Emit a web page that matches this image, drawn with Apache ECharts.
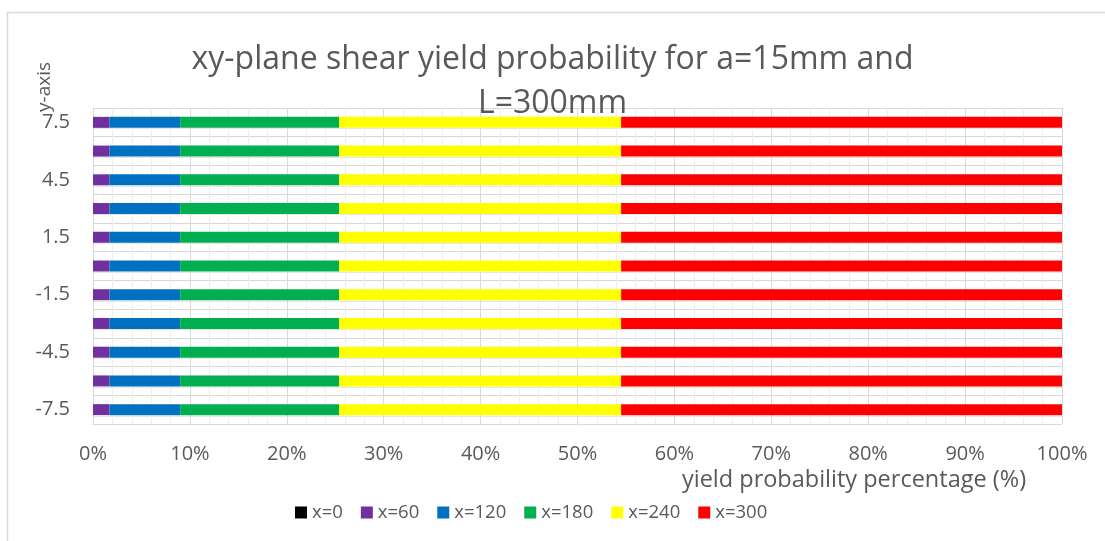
<!DOCTYPE html>
<html>
<head>
<meta charset="utf-8">
<script src="https://cdn.jsdelivr.net/npm/echarts@6/dist/echarts.min.js"></script>
<style>
  html, body { margin: 0; padding: 0; background: #ffffff; }
  #chart { width: 1105px; height: 541px; }
</style>
</head>
<body>
<div id="chart"></div>
<script>
// y positions along the beam section (mm)
const categories = ['-7.5', '-6', '-4.5', '-3', '-1.5', '0', '1.5', '3', '4.5', '6', '7.5'];

// yield probability share (%) at each x station
const seriesNames = ['x=0', 'x=60', 'x=120', 'x=180', 'x=240', 'x=300'];
const x0   = [0, 0, 0, 0, 0, 0, 0, 0, 0, 0, 0];
const x60  = [1.7, 1.7, 1.7, 1.7, 1.7, 1.7, 1.7, 1.7, 1.7, 1.7, 1.7];
const x120 = [7.3, 7.3, 7.3, 7.3, 7.3, 7.3, 7.3, 7.3, 7.3, 7.3, 7.3];
const x180 = [16.4, 16.4, 16.4, 16.4, 16.4, 16.4, 16.4, 16.4, 16.4, 16.4, 16.4];
const x240 = [29.1, 29.1, 29.1, 29.1, 29.1, 29.1, 29.1, 29.1, 29.1, 29.1, 29.1];
const x300 = [45.5, 45.5, 45.5, 45.5, 45.5, 45.5, 45.5, 45.5, 45.5, 45.5, 45.5];
const seriesValues = [x0, x60, x120, x180, x240, x300];
const seriesColors = ['#000000', '#7030a0', '#0070c0', '#00b050', '#ffff00', '#ff0000'];

const FONT = 'Open Sans';
const TEXT = '#595959';

const chart = echarts.init(document.getElementById('chart'));

chart.setOption({
  animation: false,
  textStyle: { fontFamily: FONT },
  title: {
    text: 'xy-plane shear yield probability for a=15mm and\nL=300mm',
    left: 'center',
    top: 33,
    textStyle: { fontFamily: FONT, fontSize: 32, fontWeight: 'normal', color: TEXT, lineHeight: 44 }
  },
  legend: {
    left: 290,
    top: 498,
    itemWidth: 12,
    itemHeight: 12,
    itemGap: 18,
    icon: 'rect',
    textStyle: { fontFamily: FONT, fontSize: 18.5, color: TEXT },
    data: seriesNames
  },
  grid: [
    { left: 93, right: 43, top: 108, bottom: 117, containLabel: false },
    // thin guide lines just under each bar
    { left: 93, right: 43, top: 128.5, bottom: 125.2, containLabel: false }
  ],
  xAxis: [
    {
      type: 'value',
      gridIndex: 0,
      min: 0,
      max: 100,
      interval: 10,
      axisLine: { show: false },
      axisTick: { show: false },
      axisLabel: {
        formatter: '{value}%',
        fontFamily: FONT,
        fontSize: 20,
        color: TEXT,
        margin: 20
      },
      splitLine: { show: true, lineStyle: { color: '#d9d9d9', width: 1 } },
      minorTick: { show: false, splitNumber: 5 },
      minorSplitLine: { show: true, lineStyle: { color: '#eeeeee', width: 1 } }
    },
    { type: 'value', gridIndex: 1, min: 0, max: 100, show: false }
  ],
  yAxis: [
    {
      type: 'category',
      gridIndex: 0,
      data: categories,
      boundaryGap: true,
      axisLine: { show: false },
      axisTick: { show: false },
      axisLabel: {
        interval: 1,
        fontFamily: FONT,
        fontSize: 20,
        color: TEXT,
        margin: 23
      },
      splitLine: { show: true, interval: 0, lineStyle: { color: '#d9d9d9', width: 1 } }
    },
    {
      type: 'value',
      gridIndex: 1,
      min: 0,
      max: 10,
      interval: 1,
      axisLine: { show: false },
      axisTick: { show: false },
      axisLabel: { show: false },
      splitLine: { show: true, lineStyle: { color: '#e6e6e6', width: 1 } }
    }
  ],
  series: seriesNames.map((name, i) => ({
    name: name,
    type: 'bar',
    stack: 'share',
    xAxisIndex: 0,
    yAxisIndex: 0,
    barWidth: 11,
    itemStyle: { color: seriesColors[i] },
    data: seriesValues[i]
  })),
  graphic: [
    {
      type: 'rect',
      left: 5,
      top: 10,
      shape: { width: 1200, height: 600 },
      style: { fill: 'none', stroke: '#d9d9d9', lineWidth: 1.5 },
      silent: true,
      z: -1
    },
    {
      type: 'text',
      x: 35,
      y: 112,
      rotation: Math.PI / 2,
      style: { text: 'y-axis', font: '19px "Open Sans"', fill: TEXT, textAlign: 'left', textVerticalAlign: 'top' },
      z: 10
    },
    {
      type: 'text',
      x: 854,
      y: 480,
      style: { text: 'yield probability percentage (%)', font: '23.5px "Open Sans"', fill: TEXT, textAlign: 'center', textVerticalAlign: 'middle' }
    }
  ]
});
</script>
</body>
</html>
